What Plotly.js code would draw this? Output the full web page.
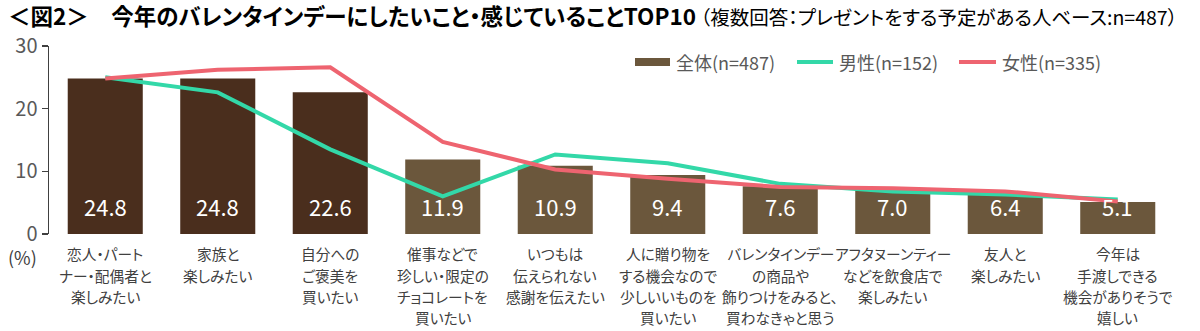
<!DOCTYPE html>
<html>
<head>
<meta charset="utf-8">
<script src="https://cdn.plot.ly/plotly-3.0.1.min.js"></script>
<style>
html, body { margin: 0; padding: 0; background: #fff; }
#chart { width: 1200px; height: 331px; }
svg text { font-feature-settings: "palt" 1; }
</style>
</head>
<body>
<div id="chart"></div>
<script>
// ---- data ----
const categories = [
  '恋人・パート<br>ナー・配偶者と<br>楽しみたい',
  '家族と<br>楽しみたい',
  '自分への<br>ご褒美を<br>買いたい',
  '催事などで<br>珍しい・限定の<br>チョコレートを<br>買いたい',
  'いつもは<br>伝えられない<br>感謝を伝えたい',
  '人に贈り物を<br>する機会なので<br>少しいいものを<br>買いたい',
  'バレンタインデー<br>の商品や<br>飾りつけをみると、<br>買わなきゃと思う',
  'アフタヌーンティー<br>などを飲食店で<br>楽しみたい',
  '友人と<br>楽しみたい',
  '今年は<br>手渡しできる<br>機会がありそうで<br>嬉しい'
];
const totalValues  = [24.8, 24.8, 22.6, 11.9, 10.9, 9.4, 7.6, 7.0, 6.4, 5.1];
const maleValues   = [25.0, 22.6, 13.5, 6.0, 12.7, 11.3, 8.0, 6.8, 6.3, 5.5];
const femaleValues = [24.8, 26.2, 26.6, 14.7, 10.3, 8.8, 7.5, 7.3, 6.8, 5.2];
const seriesNames  = ['全体(n=487)', '男性(n=152)', '女性(n=335)'];
const yTicks = [0, 10, 20, 30];

// ---- style ----
const FONT = '"Noto Sans CJK JP", "Noto Sans", sans-serif';
const DARK = '#4a2e1d', LIGHT = '#6b573c', GREEN = '#33d8a8', RED = '#ee6470';
const barColors = totalValues.map((v, i) => i < 3 ? DARK : LIGHT);

const traces = [
  { type: 'bar', x: categories, y: totalValues, name: seriesNames[0],
    marker: { color: barColors }, width: 0.667, hoverinfo: 'y', showlegend: false },
  { type: 'scatter', mode: 'lines', x: categories, y: maleValues, name: seriesNames[1],
    line: { color: GREEN, width: 4 }, showlegend: false },
  { type: 'scatter', mode: 'lines', x: categories, y: femaleValues, name: seriesNames[2],
    line: { color: RED, width: 4 }, showlegend: false }
];

// plot area in px: left 49, right 1174, top 46, bottom 234.5
const PL = 49, PW = 1125, PT = 46, PH = 188.5;
const px = v => (v - PL) / PW;
const py = v => (PT + PH - v) / PH;

const annotations = totalValues.map((v, i) => ({
  x: categories[i], y: 0, xref: 'x', yref: 'y', text: v.toFixed(1),
  showarrow: false, yanchor: 'middle', yshift: 28,
  font: { family: FONT, size: 22, color: '#ffffff' }
}));
// category labels, one text per line (reference line spacing is wider than Plotly's tick labels)
categories.forEach(c => {
  c.split('<br>').forEach((line, k) => annotations.push({
    x: c, y: 0, xref: 'x', yref: 'y', text: line, showarrow: false,
    yanchor: 'middle', yshift: -19.8 - 21.3 * k,
    font: { family: FONT, size: 14.7, color: '#404040' }
  }));
});
annotations.push({ xref: 'paper', yref: 'paper', x: px(22), y: py(258), text: '(%)',
  showarrow: false, xanchor: 'center', yanchor: 'middle',
  font: { family: FONT, size: 18, color: '#404040' } });
// legend text
const legX = [674, 837, 1000];
seriesNames.forEach((n, i) => annotations.push({ xref: 'paper', yref: 'paper', x: px(legX[i]), y: py(62),
  text: n, showarrow: false, xanchor: 'left', yanchor: 'middle',
  font: { family: FONT, size: 18, color: '#595959' } }));

const shapes = [
  { type: 'rect', xref: 'paper', yref: 'paper', x0: px(635), x1: px(670), y0: py(66), y1: py(58),
    fillcolor: LIGHT, line: { width: 0 } },
  { type: 'line', xref: 'paper', yref: 'paper', x0: px(797), x1: px(833), y0: py(62), y1: py(62),
    line: { color: GREEN, width: 4 } },
  { type: 'line', xref: 'paper', yref: 'paper', x0: px(959), x1: px(996), y0: py(62), y1: py(62),
    line: { color: RED, width: 4 } }
];

const layout = {
  width: 1200, height: 331,
  margin: { l: PL, r: 1200 - PL - PW, t: PT, b: 331 - PT - PH, pad: 0 },
  paper_bgcolor: '#fff', plot_bgcolor: '#fff',
  font: { family: FONT, color: '#404040' },
  title: {
    text: '<b>＜図2＞　今年のバレンタインデーにしたいこと・感じていることTOP10</b><span style="font-size:19.5px"> （複数回答：プレゼントをする予定がある人ベース:n=487）</span>',
    x: 8 / 1200, xanchor: 'left', xref: 'container', y: 1 - 17 / 331, yanchor: 'middle', yref: 'container',
    font: { family: FONT, size: 22.5, color: '#000' }
  },
  xaxis: {
    type: 'category', range: [-0.5, 9.5], showline: false, ticks: '', showgrid: false,
    showticklabels: false, fixedrange: true
  },
  yaxis: {
    range: [0, 30], tickvals: yTicks, ticktext: yTicks.map(String), showgrid: false, zeroline: false,
    showline: true, linecolor: '#404040', linewidth: 1.5, ticks: 'outside', ticklen: 6,
    tickcolor: '#404040', tickwidth: 1.5,
    tickfont: { family: FONT, size: 20, color: '#595959' }, fixedrange: true
  },
  bargap: 0.333,
  showlegend: false,
  annotations: annotations,
  shapes: shapes
};

Plotly.newPlot('chart', traces, layout, { displayModeBar: false, staticPlot: true });
</script>
</body>
</html>
